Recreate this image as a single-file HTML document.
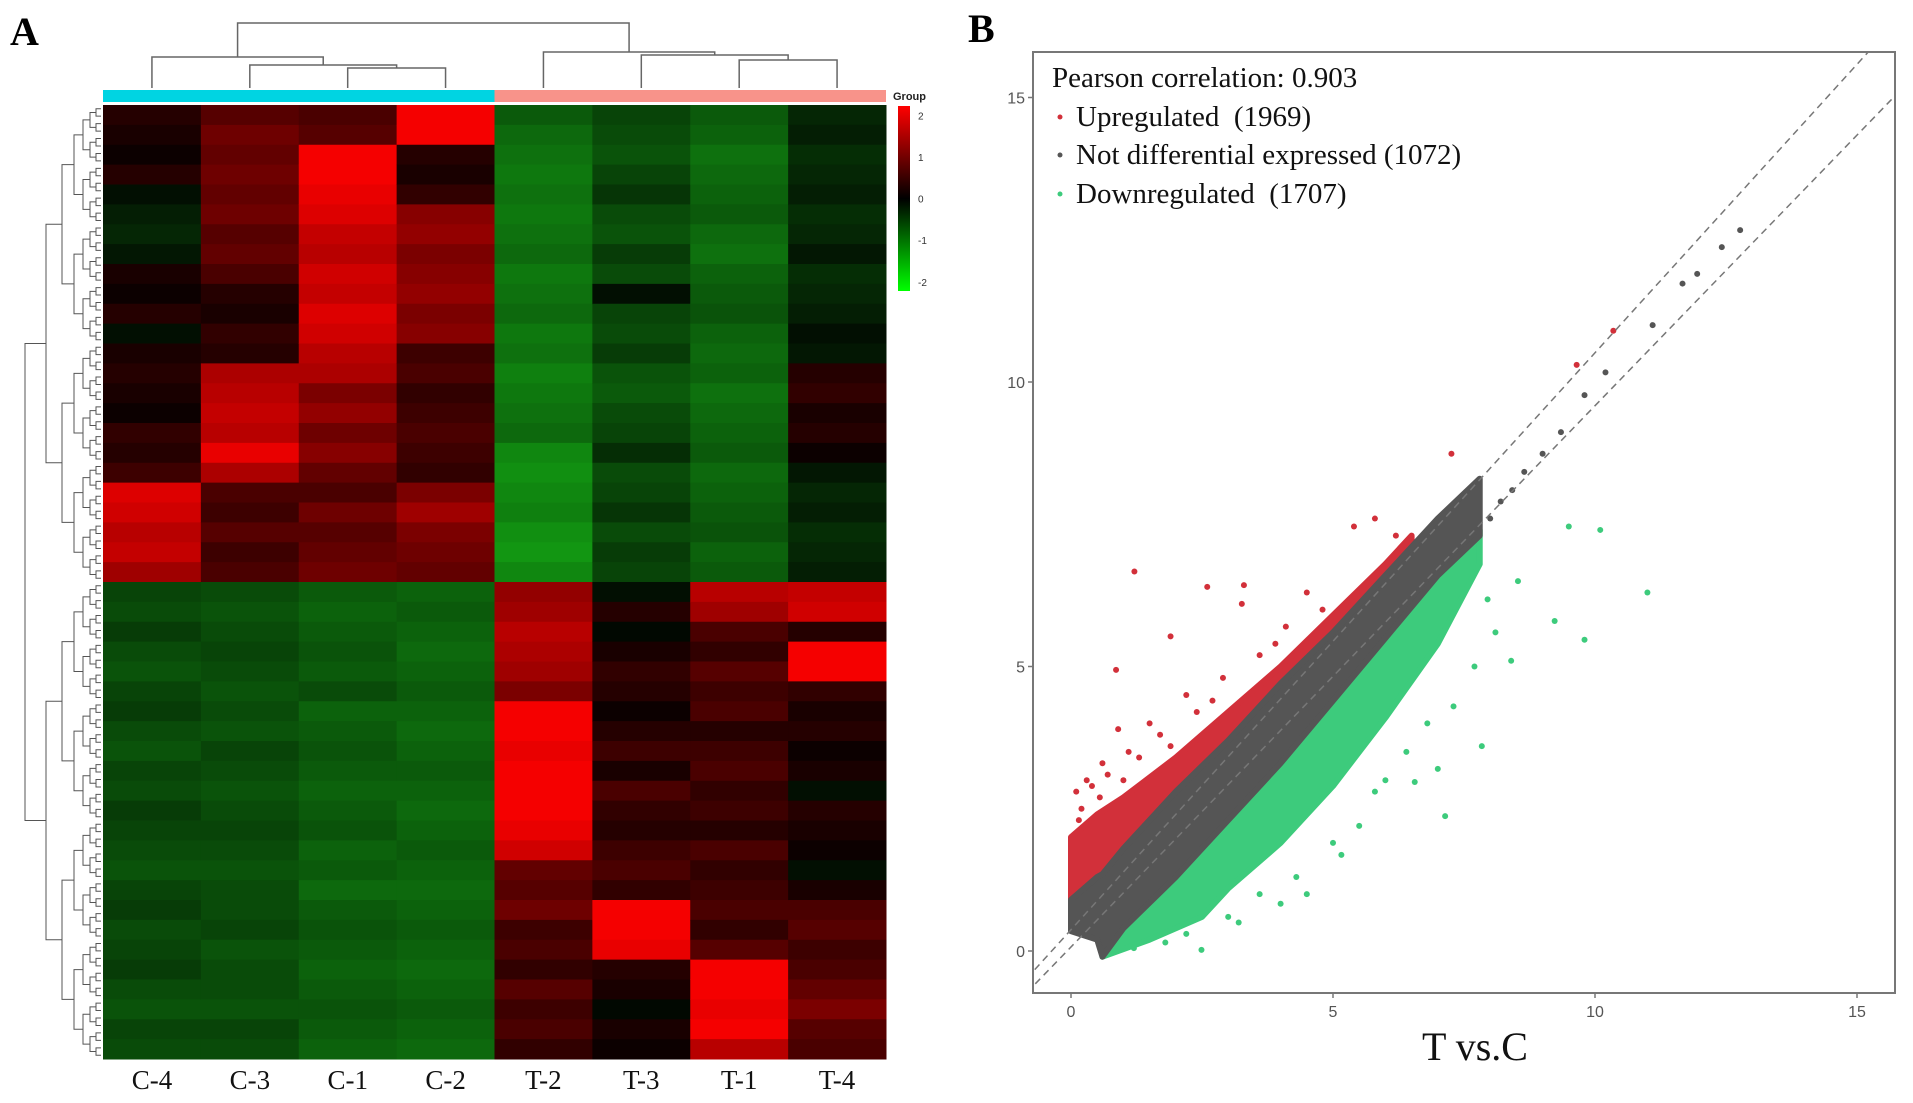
<!DOCTYPE html>
<html><head><meta charset="utf-8"><style>
html,body{margin:0;padding:0;background:#fff;}
svg{display:block;}
</style></head><body>
<svg id="fig" width="1913" height="1103" viewBox="0 0 1913 1103" xmlns="http://www.w3.org/2000/svg">
<rect width="1913" height="1103" fill="#fff"/>
<text x="10" y="45" font-family="Liberation Serif, serif" font-weight="bold" font-size="40">A</text>
<text x="968" y="42" font-family="Liberation Serif, serif" font-weight="bold" font-size="40">B</text>
<g id="heat"></g>
<g id="scatter"></g>
</svg>
<script>
const NS='http://www.w3.org/2000/svg';
function mk(parent,tag,attrs){const e=document.createElementNS(NS,tag);for(const k in attrs)e.setAttribute(k,attrs[k]);parent.appendChild(e);return e;}

// ---------- Heatmap data ----------
const sampleNames=['C-4','C-3','C-1','C-2','T-2','T-3','T-1','T-4'];
const colC4=[0.3,0.2,0.1,0.3,-0.2,-0.4,-0.5,-0.3,0.2,0.1,0.3,-0.2,0.2,0.3,0.2,0.1,0.4,0.3,0.5,1.8,1.7,1.5,1.6,1.3,
 -0.9,-1.0,-0.8,-1.0,-1.1,-0.9,-0.8,-1.0,-1.1,-0.9,-1.0,-0.8,-0.9,-1.0,-1.1,-0.9,-0.8,-1.0,-0.9,-0.8,-1.0,-1.1,-0.9,-1.0];
const colC3=[0.7,0.9,0.8,0.9,0.8,0.9,0.7,0.8,0.6,0.3,0.2,0.4,0.3,1.4,1.5,1.6,1.5,1.9,1.4,0.6,0.5,0.7,0.5,0.6,
 -1.0,-1.1,-1.0,-0.9,-1.0,-1.1,-1.0,-1.1,-0.9,-1.0,-1.1,-1.0,-0.9,-1.0,-1.1,-1.0,-1.0,-0.9,-1.1,-1.0,-1.0,-1.1,-0.9,-1.0];
const colC1=[0.6,0.7,2.0,2.0,1.9,1.8,1.6,1.5,1.7,1.6,1.8,1.7,1.5,1.4,1.0,1.2,0.9,1.1,0.8,0.6,0.9,0.7,0.8,0.9,
 -1.2,-1.3,-1.2,-1.1,-1.2,-1.0,-1.3,-1.2,-1.1,-1.2,-1.3,-1.2,-1.1,-1.3,-1.2,-1.4,-1.2,-1.1,-1.2,-1.3,-1.2,-1.1,-1.2,-1.3];
const colC2=[2.0,2.0,0.3,0.2,0.4,1.1,1.2,1.0,1.1,1.2,1.0,1.1,0.5,0.6,0.4,0.5,0.6,0.5,0.4,1.0,1.3,1.0,0.9,0.8,
 -1.3,-1.2,-1.3,-1.4,-1.3,-1.2,-1.3,-1.4,-1.3,-1.2,-1.3,-1.4,-1.3,-1.2,-1.3,-1.4,-1.3,-1.2,-1.3,-1.4,-1.3,-1.2,-1.3,-1.4];
const colT2=[-1.2,-1.4,-1.5,-1.6,-1.5,-1.6,-1.5,-1.4,-1.6,-1.5,-1.4,-1.6,-1.5,-1.7,-1.6,-1.5,-1.4,-1.8,-1.9,-1.8,-1.7,-1.9,-2.0,-1.8,
 1.2,1.3,1.5,1.4,1.3,1.0,2.0,2.0,1.9,2.0,2.0,2.0,1.9,1.7,0.8,0.7,0.9,0.5,0.6,0.4,0.7,0.5,0.6,0.4];
const colT3=[-0.9,-1.0,-1.1,-0.9,-0.7,-1.0,-1.1,-0.8,-1.0,-0.2,-0.9,-1.0,-0.8,-1.1,-1.2,-1.0,-0.9,-0.6,-1.0,-0.9,-0.7,-1.0,-0.8,-0.9,
 -0.2,0.3,-0.1,0.2,0.4,0.3,0.1,0.3,0.5,0.2,0.6,0.4,0.3,0.5,0.6,0.4,2.0,2.0,1.9,0.3,0.2,-0.1,0.2,0.1];
const colT1=[-1.2,-1.3,-1.5,-1.4,-1.3,-1.2,-1.4,-1.5,-1.3,-1.2,-1.1,-1.3,-1.4,-1.3,-1.5,-1.4,-1.3,-1.2,-1.4,-1.3,-1.2,-1.1,-1.3,-1.2,
 1.5,1.3,0.6,0.4,0.7,0.5,0.6,0.3,0.5,0.6,0.4,0.5,0.3,0.6,0.4,0.5,0.6,0.4,0.7,2.0,2.0,1.9,2.0,1.5];
const colT4=[-0.5,-0.4,-0.6,-0.5,-0.4,-0.6,-0.5,-0.3,-0.6,-0.5,-0.4,-0.2,-0.3,0.3,0.4,0.2,0.3,0.1,-0.3,-0.5,-0.4,-0.6,-0.5,-0.4,
 1.6,1.7,0.3,2.0,2.0,0.4,0.2,0.3,0.1,0.2,-0.2,0.3,0.2,0.1,-0.2,0.2,0.6,0.7,0.5,0.6,0.8,1.0,0.7,0.6];
const heatColumns=[colC4,colC3,colC1,colC2,colT2,colT3,colT1,colT4];
const keyTicks=[2,1,0,-1,-2];

const H=document.getElementById('heat');
const hx0=103,hx1=886,hy0=105,hy1=1059;
const colW=(hx1-hx0)/sampleNames.length;
function heatColor(v){v=Math.max(-2,Math.min(2,v));
 if(v>=0)return 'rgb('+Math.round(245*v/2)+',0,0)';
 const g=Math.round(150*(-v)/2);
 return 'rgb('+Math.round(g*0.12)+','+g+','+Math.round(g*0.12)+')';}
heatColumns.forEach((col,ci)=>{
 const rh=(hy1-hy0)/col.length;
 col.forEach((v,ri)=>{
  const r=mk(H,'rect',{x:hx0+ci*colW,y:hy0+ri*rh,width:colW+0.5,height:rh+0.5,fill:heatColor(v)});
  
  
 });
});
const gb1=mk(H,'rect',{x:hx0,y:90,width:colW*4,height:12,fill:'#00d4e2'});


const gb2=mk(H,'rect',{x:hx0+colW*4,y:90,width:colW*4,height:12,fill:'#f8938a'});


const gl=mk(H,'text',{x:893,y:100,'font-family':'Liberation Sans, sans-serif','font-size':11,'font-weight':'bold',fill:'#222'});
gl.textContent='Group';


sampleNames.forEach((n,i)=>{
 const t=mk(H,'text',{x:hx0+colW*(i+0.5),y:1089,'text-anchor':'middle','font-family':'Liberation Serif, serif','font-size':27,fill:'#111'});
 t.textContent=n;
 
 
});
const grad=mk(H,'defs',{});
const lg=mk(grad,'linearGradient',{id:'kg',x1:0,y1:0,x2:0,y2:1});
mk(lg,'stop',{offset:'0','stop-color':'#ff0000'});
mk(lg,'stop',{offset:'0.5','stop-color':'#000000'});
mk(lg,'stop',{offset:'1','stop-color':'#00ff00'});
const key=mk(H,'rect',{x:898,y:106,width:12,height:185,fill:'url(#kg)'});


keyTicks.forEach(v=>{
 const y=106+185*(2-v)/4*0.9+185*0.05;
 const t=mk(H,'text',{x:918,y:y+4,'font-family':'Liberation Sans, sans-serif','font-size':10,fill:'#333'});
 t.textContent=String(v);
 
 
});
function cx(i){return hx0+colW*(i+0.5);}
function link(g,xa,ya,xb,yb,yj){
 const p=mk(g,'path',{d:`M${xa},${ya}V${yj}H${xb}V${yb}`,fill:'none',stroke:'#666','stroke-width':1.5});
 
 
}
const dg=mk(H,'g',{});
link(dg,cx(2),88,cx(3),88,68);
const m1=(cx(2)+cx(3))/2;
link(dg,cx(1),88,m1,68,65);
const m2=(cx(1)+m1)/2;
link(dg,cx(0),88,m2,65,57);
const m3=(cx(0)+m2)/2;
link(dg,cx(6),88,cx(7),88,60);
const m4=(cx(6)+cx(7))/2;
link(dg,cx(5),88,m4,60,55);
const m5=(cx(5)+m4)/2;
link(dg,cx(4),88,m5,55,52);
const m6=(cx(4)+m5)/2;
link(dg,m3,57,m6,52,23);
const rg=mk(H,'g',{});
const levelX=[101,96,90,83,74,62,46,25];
function build(lo,hi,lvl){
 if(lvl===0)return (lo+hi)/2;
 const mid=(lo+hi)/2;
 const a=build(lo,mid,lvl-1),b=build(mid,hi,lvl-1);
 const xc=levelX[lvl],xp=levelX[lvl-1];
 const p=mk(rg,'path',{d:`M${xp},${a}H${xc}V${b}H${xp}`,fill:'none',stroke:'#555','stroke-width':1});
 
 
 return (a+b)/2;
}
build(hy0,hy1,7);

// ---------- Scatter data ----------
const xTicks=[0,5,10,15];
const yTicks=[0,5,10,15];
const grayBandX=[0,0.5,0.6,1,2,3,4,5,6,7,7.8];
const grayBandLow=[0.35,0.2,-0.1,0.4,1.3,2.3,3.3,4.4,5.5,6.6,7.3];
const grayBandHigh=[0.9,1.3,1.35,1.8,2.8,3.7,4.7,5.6,6.6,7.6,8.3];
const redCloudX=[0,0.5,1,2,3,4,5,6,6.5];
const redCloudHigh=[2.0,2.4,2.7,3.4,4.2,5.0,5.9,6.8,7.3];
const redCloudLow=[0.55,1.3,1.7,2.6,3.5,4.5,5.4,6.4,6.9];
const greenCloudX=[0.6,1.5,2.5,3,4,5,6,7,7.8];
const greenCloudHigh=[-0.1,0.9,1.9,2.5,3.5,4.6,5.6,6.6,7.4];
const greenCloudLow=[-0.1,0.2,0.6,1.1,1.9,2.9,4.1,5.4,6.8];
const grayOutX=[12.77,12.42,11.95,11.67,11.1,10.2,9.8,9.35,9.0,8.65,8.42,8.2,8.0];
const grayOutY=[12.67,12.37,11.9,11.73,11.0,10.17,9.77,9.12,8.74,8.42,8.1,7.9,7.6];
const redOutX=[10.35,9.65,7.26,1.21,2.6,3.26,1.9,0.86,6.2,5.4,3.3,0.3,0.1,0.6,1.5,2.2,4.5,5.8,0.9,0.2,0.4,0.7,1.1,1.3,1.7,2.4,2.9,3.6,4.1,0.15,0.55,1.0,1.9,2.7,3.9,4.8];
const redOutY=[10.9,10.3,8.74,6.67,6.4,6.1,5.53,4.94,7.3,7.46,6.43,3.0,2.8,3.3,4.0,4.5,6.3,7.6,3.9,2.5,2.9,3.1,3.5,3.4,3.8,4.2,4.8,5.2,5.7,2.3,2.7,3.0,3.6,4.4,5.4,6.0];
const greenOutX=[9.5,10.1,11.0,9.8,9.23,8.53,7.84,7.14,8.4,7.7,6.56,5.16,4.0,2.49,7.95,6.8,6.0,5.5,3.2,4.5,1.2,1.8,2.2,3.0,3.6,4.3,5.0,5.8,6.4,7.3,7.0,8.1];
const greenOutY=[7.46,7.4,6.3,5.47,5.8,6.5,3.6,2.37,5.1,5.0,2.97,1.69,0.83,0.02,6.18,4.0,3.0,2.2,0.5,1.0,0.05,0.15,0.3,0.6,1.0,1.3,1.9,2.8,3.5,4.3,3.2,5.6];
const upperLineX=[-1,15.5],upperLineY=[-0.64,16.09];
const lowerLineX=[-1,16],lowerLineY=[-0.88,15.29];

const S=document.getElementById('scatter');
const bx0=1033,bx1=1895,by0=52,by1=993;
function sx(v){return 1071+52.4*v;}
function sy(v){return 951-56.9*v;}
const clip=mk(S,'clipPath',{id:'pc'});
mk(clip,'rect',{x:bx0,y:by0,width:bx1-bx0,height:by1-by0});
const plot=mk(S,'g',{'clip-path':'url(#pc)'});
function band(xs,lo,hi,color,name){
 let d='M'+xs.map((x,i)=>sx(x)+','+sy(hi[i])).join('L');
 for(let i=xs.length-1;i>=0;i--)d+='L'+sx(xs[i])+','+sy(lo[i]);
 const p=mk(plot,'path',{d:d+'Z',fill:color,stroke:color,'stroke-width':6,'stroke-linejoin':'round'});
 
 
}
band(redCloudX,redCloudLow,redCloudHigh,'#d2303a','upregulated-cloud');
band(greenCloudX,greenCloudLow,greenCloudHigh,'#3dcb7c','downregulated-cloud');
band(grayBandX,grayBandLow,grayBandHigh,'#555555','not-differential-cloud');
function pts(xs,ys,color,name){
 xs.forEach((x,i)=>{
  const c=mk(plot,'circle',{cx:sx(x),cy:sy(ys[i]),r:3,fill:color});
  
  
 });
}
pts(redOutX,redOutY,'#d2303a','upregulated-point');
pts(greenOutX,greenOutY,'#3dcb7c','downregulated-point');
pts(grayOutX,grayOutY,'#555555','not-differential-point');
[[upperLineX,upperLineY,'upper-threshold-line'],[lowerLineX,lowerLineY,'lower-threshold-line']].forEach(([lx,ly,n])=>{
 const l=mk(plot,'line',{x1:sx(lx[0]),y1:sy(ly[0]),x2:sx(lx[1]),y2:sy(ly[1]),stroke:'#777','stroke-width':1.5,'stroke-dasharray':'7,5'});
 
 
});
const box=mk(S,'rect',{x:bx0,y:by0,width:bx1-bx0,height:by1-by0,fill:'none',stroke:'#777','stroke-width':2});


xTicks.forEach(v=>{
 mk(S,'line',{x1:sx(v),y1:by1,x2:sx(v),y2:by1+5,stroke:'#777','stroke-width':1.5});
 const t=mk(S,'text',{x:sx(v),y:by1+24,'text-anchor':'middle','font-family':'Liberation Sans, sans-serif','font-size':16,fill:'#555'});
 t.textContent=String(v);
 
 
});
yTicks.forEach(v=>{
 mk(S,'line',{x1:bx0-5,y1:sy(v),x2:bx0,y2:sy(v),stroke:'#777','stroke-width':1.5});
 const t=mk(S,'text',{x:bx0-8,y:sy(v)+6,'text-anchor':'end','font-family':'Liberation Sans, sans-serif','font-size':16,fill:'#555'});
 t.textContent=String(v);
 
 
});
const xt=mk(S,'text',{x:1475,y:1060,'text-anchor':'middle','font-family':'Liberation Serif, serif','font-size':40,fill:'#111'});
xt.textContent='T vs.C';


const pt=mk(S,'text',{x:1052,y:87,'font-family':'Liberation Serif, serif','font-size':29,fill:'#111'});
pt.textContent='Pearson correlation: 0.903';


const legItems=[['Upregulated  (1969)','#d2303a',126,'legend-upregulated'],['Not differential expressed (1072)','#555',164,'legend-not-differential'],['Downregulated  (1707)','#3dcb7c',203,'legend-downregulated']];
legItems.forEach(([txt,c,y,n])=>{
 const g=mk(S,'g',{});
 
 
 mk(g,'circle',{cx:1060,cy:y-9,r:2.5,fill:c});
 const t=mk(g,'text',{x:1076,y:y,'font-family':'Liberation Serif, serif','font-size':29,fill:'#111','xml:space':'preserve'});
 t.style.whiteSpace='pre';
 t.textContent=txt;
});
</script>
</body></html>
